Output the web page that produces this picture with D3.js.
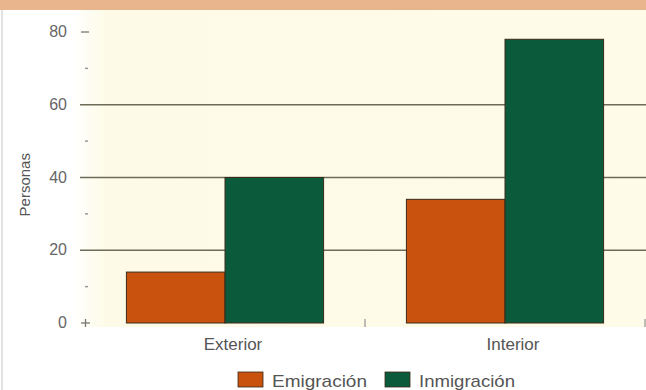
<!DOCTYPE html>
<html><head><meta charset="utf-8">
<script src="https://cdn.jsdelivr.net/npm/d3@7"></script>
<style>
html,body{margin:0;padding:0;background:#fff;}
svg{display:block;font-family:"Liberation Sans",Arial,sans-serif;}
</style></head>
<body>
<svg id="c" width="646" height="390"></svg>
<script>
const categories = ["Exterior", "Interior"];
const series = ["Emigración", "Inmigración"];
const emigracion = [14, 34];
const inmigracion = [40, 78];
const yTicks = [0, 20, 40, 60, 80];
const yMinor = [10, 30, 50, 70];
const yLabel = "Personas";
const colors = ["#c9520f", "#0b5a3b"];

const W = 646, H = 390;
const svg = d3.select("#c");
const y = d3.scaleLinear().domain([0, 80]).range([323, 32]);
const x = d3.scaleBand().domain(categories).range([85, 645]).paddingInner(0).paddingOuter(0);
const xs = d3.scaleBand().domain(series).range([0, x.bandwidth()]).paddingInner(0).paddingOuter(0.42);

const defs = svg.append("defs");
const g1 = defs.append("linearGradient").attr("id","bg").attr("x1","0").attr("x2","1").attr("y1","0").attr("y2","0");
g1.append("stop").attr("offset","0").attr("stop-color","#ffffff");
g1.append("stop").attr("offset","0.06").attr("stop-color","#fdfbe7");
g1.append("stop").attr("offset","1").attr("stop-color","#fefce9");

// plot background
svg.append("rect").attr("x",72).attr("y",10).attr("width",W-72).attr("height",317).attr("fill","url(#bg)");
// top band
svg.append("rect").attr("x",0).attr("y",0).attr("width",W).attr("height",10).attr("fill","#e8b58d");
// left border
svg.append("line").attr("x1",2).attr("x2",2).attr("y1",10).attr("y2",H).attr("stroke","#d8d8d8").attr("stroke-width",1.5);

// gridlines
svg.append("g").selectAll("line").data(yTicks.filter(d => d > 0 && d < 80)).join("line")
  .attr("x1",80).attr("x2",W).attr("y1",d=>y(d)).attr("y2",d=>y(d))
  .attr("stroke","#6e6c58").attr("stroke-width",1.4);
// top tick
svg.append("line").attr("x1",81).attr("x2",89).attr("y1",y(80)).attr("y2",y(80)).attr("stroke","#777").attr("stroke-width",1.3);
// zero "+"
svg.append("line").attr("x1",81).attr("x2",90).attr("y1",y(0)).attr("y2",y(0)).attr("stroke","#777").attr("stroke-width",1.3);
svg.append("line").attr("x1",85.5).attr("x2",85.5).attr("y1",y(0)-4).attr("y2",y(0)+4).attr("stroke","#777").attr("stroke-width",1.3);
// minor ticks
svg.append("g").selectAll("line").data(yMinor).join("line")
  .attr("x1",85).attr("x2",88).attr("y1",d=>y(d)).attr("y2",d=>y(d))
  .attr("stroke","#999").attr("stroke-width",1.5);
// y tick labels
svg.append("g").selectAll("text").data(yTicks).join("text")
  .attr("x",67).attr("y",d=>y(d)).attr("dy","0.32em").attr("text-anchor","end")
  .attr("font-size",16).attr("fill","#666").text(d=>d);
// y label
svg.append("text").attr("transform",`translate(30,${y(38)}) rotate(-90)`).attr("text-anchor","middle")
  .attr("font-size",15).attr("fill","#555").text(yLabel);

// x ticks at band boundaries
svg.append("g").selectAll("line").data(categories.slice(1).map(c=>x(c)).concat([x.range()[1]])).join("line")
  .attr("x1",d=>d).attr("x2",d=>d).attr("y1",y(0)-4).attr("y2",y(0)+4)
  .attr("stroke","#999").attr("stroke-width",1.3);

// bars
const data = categories.map((c,i)=>({cat:c, vals:[emigracion[i], inmigracion[i]]}));
const grp = svg.append("g").selectAll("g").data(data).join("g").attr("transform",d=>`translate(${x(d.cat)},0)`);
grp.selectAll("rect").data(d=>d.vals.map((v,j)=>({s:series[j], v, j}))).join("rect")
  .attr("x",d=>xs(d.s)).attr("width",xs.bandwidth())
  .attr("y",d=>y(d.v)).attr("height",d=>y(0)-y(d.v))
  .attr("fill",d=>colors[d.j]).attr("stroke","#3a2a1a").attr("stroke-width",1);

// category labels
svg.append("g").selectAll("text").data(categories).join("text")
  .attr("x",c=>x(c)+x.bandwidth()/2+8).attr("y",350).attr("text-anchor","middle")
  .attr("font-size",17).attr("fill","#555").text(c=>c);

// legend
const legX = [238, 385];
const lg = svg.append("g").selectAll("g").data(series).join("g").attr("transform",(d,i)=>`translate(${legX[i]},372)`);
lg.append("rect").attr("width",25).attr("height",15).attr("fill",(d,i)=>colors[i]).attr("stroke","#3a2a1a").attr("stroke-width",0.8);
lg.append("text").attr("x",34).attr("y",15).attr("font-size",17).attr("fill","#555")
  .attr("textLength",(d,i)=>[95,96][i]).attr("lengthAdjust","spacingAndGlyphs").text(d=>d);
</script>
</body></html>
